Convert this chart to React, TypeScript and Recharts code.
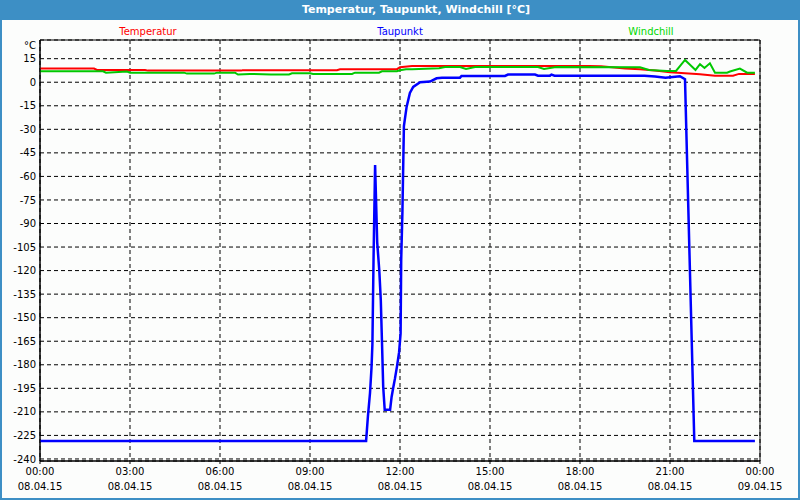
import { LineChart, Line, XAxis, YAxis, CartesianGrid, ReferenceArea } from 'recharts';

// hours since 08.04.15 00:00
const tempHours = [0, 1.8, 1.9, 3.5, 3.6, 6.7, 6.75, 9.9, 10.0, 11.9, 12.0, 12.4, 15.0, 18.3, 18.7, 19.5, 20.0, 20.5, 21.0, 22.0, 22.5, 23.1, 23.3, 23.83];
const tempValues = [8.7, 8.7, 7.8, 7.8, 7.4, 7.4, 7.6, 7.6, 8.3, 8.3, 9.6, 10.4, 10.4, 10.4, 10.2, 8.7, 8.3, 7.5, 6.4, 5.1, 4.2, 4.2, 5.3, 5.3];

const dewHours = [0, 10.87, 10.93, 11.0, 11.05, 11.08, 11.12, 11.17, 11.24, 11.31, 11.36, 11.4, 11.44, 11.49, 11.67, 11.72, 11.78, 11.83, 11.9, 11.97, 12.02, 12.04, 12.08, 12.13, 12.22, 12.33, 12.44, 12.67, 13.0, 13.22, 13.4, 14.0, 14.05, 15.5, 15.6, 16.5, 16.6, 17.0, 17.05, 17.15, 20.15, 20.5, 20.85, 21.33, 21.5, 21.81, 23.83];
const dewValues = [-228.5, -228.5, -213, -198, -182, -167, -110, -52.7, -102, -120, -139, -166, -194, -208.7, -208.7, -200.5, -194, -189, -181, -172, -160, -113, -83, -28, -15.7, -6.8, -3, 0, 0.4, 2.5, 2.9, 2.9, 4.0, 4.0, 4.9, 4.9, 4.2, 4.2, 4.9, 4.2, 4.2, 3.6, 2.9, 3.8, 1.9, -228.5, -228.5];

const chillHours = [0, 2.1, 2.2, 2.9, 3.0, 4.8, 4.9, 5.8, 5.9, 6.5, 6.6, 7.0, 7.7, 8.3, 8.4, 9.0, 9.1, 10.4, 10.5, 11.3, 11.4, 11.9, 12.0, 12.2, 12.4, 13.3, 13.5, 14.0, 14.2, 14.5, 16.6, 16.8, 17.2, 20.0, 20.3, 20.9, 21.2, 21.5, 21.85, 22.0, 22.15, 22.33, 22.5, 22.9, 23.0, 23.33, 23.57, 23.83];
const chillValues = [7.0, 7.0, 6.1, 6.8, 6.1, 6.1, 5.5, 5.5, 6.1, 6.1, 4.9, 5.3, 4.9, 4.9, 5.7, 5.7, 5.3, 5.3, 6.1, 6.1, 7.0, 7.0, 7.6, 8.3, 8.3, 8.9, 9.7, 9.7, 8.5, 9.7, 9.7, 8.5, 9.7, 9.5, 7.8, 7.2, 7.2, 14.2, 7.8, 11.5, 9.1, 12.1, 6.1, 6.1, 6.8, 8.7, 6.1, 6.1];

const seriesNames = ['Temperatur', 'Taupunkt', 'Windchill'];
const seriesColors = ['#ff0000', '#0000ff', '#00c800'];
const legendColors = ['#ff0000', '#0000ff', '#00d800'];

const xTicks = [0, 3, 6, 9, 12, 15, 18, 21, 24];
const timeLabels = ['00:00', '03:00', '06:00', '09:00', '12:00', '15:00', '18:00', '21:00', '00:00'];
const dateLabels = ['08.04.15', '08.04.15', '08.04.15', '08.04.15', '08.04.15', '08.04.15', '08.04.15', '08.04.15', '09.04.15'];
const hourTicks = Array.from({ length: 25 }, (_, i) => i);
const yTicks = [15, 0, -15, -30, -45, -60, -75, -90, -105, -120, -135, -150, -165, -180, -195, -210, -225, -240];

const toPoints = (hours: number[], values: number[]) => hours.map((h, i) => ({ h, v: values[i] }));
const tempData = toPoints(tempHours, tempValues);
const dewData = toPoints(dewHours, dewValues);
const chillData = toPoints(chillHours, chillValues);

const FONT = '"DejaVu Sans", Tahoma, sans-serif';

const TimeTick = (props: any) => {
  const { x, y, payload } = props;
  const i = xTicks.indexOf(payload.value);
  return (
    <text x={x} y={y} textAnchor="middle" fontSize={10} fontFamily={FONT} fill="#000">
      <tspan x={x} dy={11}>{timeLabels[i]}</tspan>
      <tspan x={x} dy={15}>{dateLabels[i]}</tspan>
    </text>
  );
};

const legendCenters = [148, 400, 651];

export default function App() {
  return (
    <div style={{ position: 'absolute', left: 0, top: 0, width: 800, height: 500, background: '#3d8fc5' }}>
      <div
        style={{
          position: 'absolute',
          left: 0,
          top: 0,
          width: 832,
          height: 20,
          lineHeight: '20px',
          textAlign: 'center',
          color: '#fff',
          fontWeight: 'bold',
          fontFamily: FONT,
          fontSize: 11,
        }}
      >
        Temperatur, Taupunkt, Windchill [°C]
      </div>
      <div style={{ position: 'absolute', left: 2, top: 20, width: 796, height: 478, background: '#fcfdfc' }} />
      {seriesNames.map((name, i) => (
        <span
          key={name}
          style={{
            position: 'absolute',
            left: legendCenters[i],
            top: 25,
            transform: 'translateX(-50%)',
            color: legendColors[i],
            fontFamily: FONT,
            fontSize: 10,
            lineHeight: '14px',
            whiteSpace: 'nowrap',
          }}
        >
          {name}
        </span>
      ))}
      <div style={{ position: 'absolute', left: 0, top: 0 }}>
        <LineChart width={800} height={500} margin={{ top: 40, right: 40, bottom: 0, left: 0 }}>
          <CartesianGrid stroke="#000" strokeDasharray="4 3" />
          <XAxis
            xAxisId="minor"
            dataKey="h"
            type="number"
            domain={[0, 24]}
            ticks={hourTicks}
            tick={false}
            tickSize={3}
            height={0}
            axisLine={false}
            stroke="#000"
          />
          <XAxis
            dataKey="h"
            type="number"
            domain={[0, 24]}
            ticks={xTicks}
            tick={<TimeTick />}
            tickSize={3}
            tickMargin={0}
            height={39}
            stroke="#000"
            allowDataOverflow
          />
          <YAxis
            type="number"
            domain={[-241.3, 26.9]}
            ticks={yTicks}
            width={40}
            tickLine={false}
            tickSize={2}
            tickMargin={2}
            stroke="#000"
            interval={0}
            allowDataOverflow
            tick={{ fontSize: 10, fontFamily: FONT, fill: '#000' }}
            label={{
              content: (p: any) => (
                <text x={p.viewBox.x + p.viewBox.width - 4} y={p.viewBox.y + 9} textAnchor="end" fontSize={10} fontFamily={FONT} fill="#000">
                  °C
                </text>
              ),
            }}
          />
          <ReferenceArea x1={0} x2={24} y1={-241.3} y2={26.9} fill="none" stroke="#000" strokeWidth={1} ifOverflow="visible" />
          <Line data={tempData} dataKey="v" name={seriesNames[0]} stroke={seriesColors[0]} strokeWidth={2} dot={false} isAnimationActive={false} />
          <Line data={chillData} dataKey="v" name={seriesNames[2]} stroke={seriesColors[2]} strokeWidth={2} dot={false} isAnimationActive={false} />
          <Line data={dewData} dataKey="v" name={seriesNames[1]} stroke={seriesColors[1]} strokeWidth={2.5} dot={false} isAnimationActive={false} />
        </LineChart>
      </div>
    </div>
  );
}
